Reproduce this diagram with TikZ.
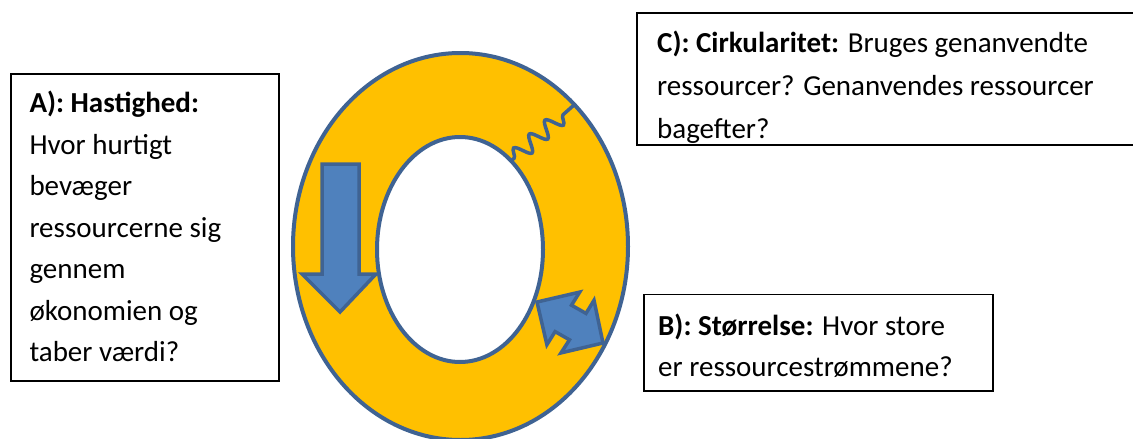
\documentclass[tikz,border=0pt]{standalone}
\usepackage{fontspec}
\setmainfont{Carlito}
\usepackage{tikz}
\usetikzlibrary{decorations.pathmorphing}

\definecolor{ringfill}{HTML}{FFC000}
\definecolor{ringline}{HTML}{3F6393}
\definecolor{arrowfill}{HTML}{4F81BD}

\tikzset{
  infobox/.style={draw=black, line width=1.8pt, anchor=north west, inner sep=0pt},
  boxtext/.style={font=\fontsize{29pt}{41.5pt}\selectfont, anchor=base west, inner sep=0pt, align=left},
  blockarrow/.style={fill=arrowfill, draw=ringline, line width=3.5pt, line join=miter}
}

\begin{document}
\begin{tikzpicture}[x=1pt, y=-1pt]

\clip (0,0) rectangle (1133,439);

\fill[white] (0,0) rectangle (1133,439);

% ring
\draw[fill=ringfill, draw=ringline, line width=4pt] (460.5,246.5) ellipse [x radius=167.5pt, y radius=193.5pt];

\draw[fill=white, draw=ringline, line width=4pt] (460,249.5) ellipse [x radius=83pt, y radius=112.5pt];

\coordinate (sqin) at (511,161);

\coordinate (sqout) at (574,105);

\draw[ringline, line width=3.5pt, decorate, decoration={snake, segment length=21pt, amplitude=8pt, pre length=4pt, post length=7pt}] (sqin) -- (sqout);

% arrows
\draw[blockarrow] (322,164) -- (359,164) -- (359,274) -- (376,274) -- (340,312) -- (302,274) -- (322,274) -- cycle;

\draw[blockarrow] (537,302) -- (579.7,292.1) -- (571.5,305.2) -- (586,313.4) -- (594,300.3) -- (603,343) -- (561,352.9) -- (569.5,339.8) -- (555.1,331.6) -- (546.9,344.7) -- cycle;

% boxes (text nodes sit on their last baseline)
\node(boxA)[infobox, minimum width=268pt, minimum height=307pt] at (10,73) {};

\node(textA)[boxtext] at (29.3,361.7) {\textbf{A): Hastighed:}\\Hvor hurtigt\\bevæger\\ressourcerne sig\\gennem\\økonomien og\\taber værdi?};

\node(boxC)[infobox, minimum width=510pt, minimum height=132pt] at (636,12) {};

\node(textC)[boxtext, font=\fontsize{29pt}{43pt}\selectfont] at (657,138) {\textbf{C): Cirkularitet:} Bruges genanvendte\\ressourcer? Genanvendes ressourcer\\bagefter?};

\node(boxB)[infobox, minimum width=349pt, minimum height=96.5pt] at (642.7,293.5) {};

\node(textB)[boxtext] at (658,376.5) {\textbf{B): Størrelse:} Hvor store\\er ressourcestrømmene?};

\end{tikzpicture}
\end{document}
